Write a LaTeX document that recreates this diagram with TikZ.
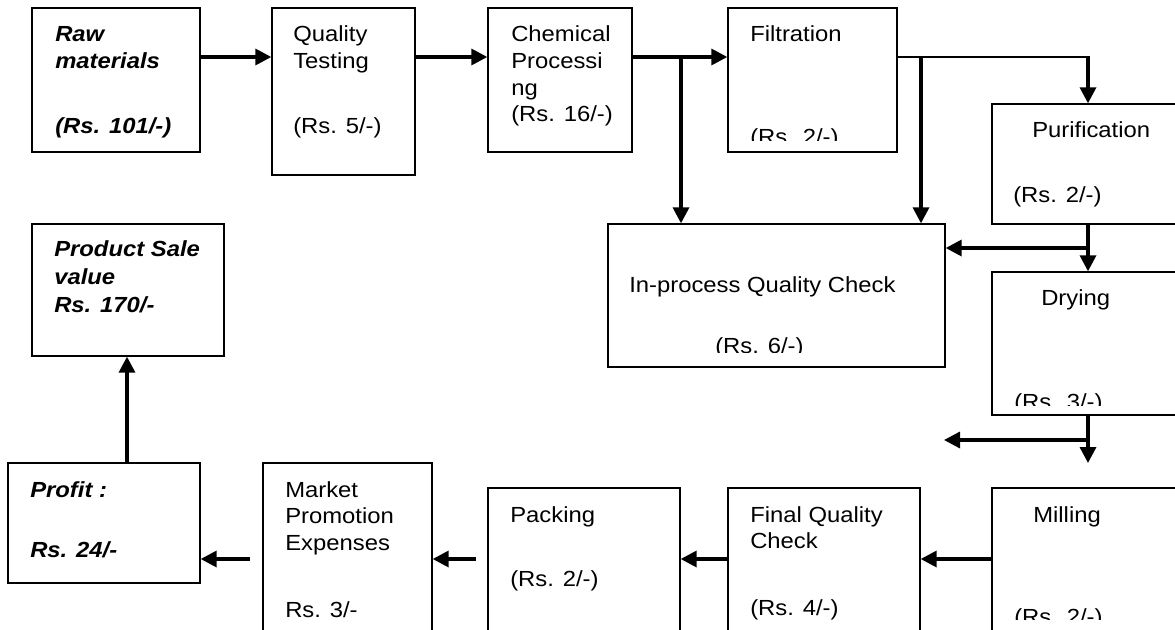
\documentclass[tikz,border=0pt]{standalone}
\usepackage{fontspec}
\setmainfont{Liberation Sans}[FakeStretch=1.09]
\usetikzlibrary{arrows.meta,fit}

\begin{document}
\begin{tikzpicture}[x=0.75pt,y=-0.75pt,
  box/.style={draw,line width=1pt,inner sep=0pt},
  txt/.style={anchor=base west,inner sep=0pt,font=\fontsize{16.4}{20}\selectfont},
  bi/.style={anchor=base west,inner sep=0pt,font=\fontsize{16.4}{20}\selectfont\bfseries\itshape},
  flow/.style={line width=2.5pt,-{Triangle[length=12pt,width=12pt]}},
  thinline/.style={line width=1pt}]

\useasboundingbox (0,0) rectangle (1175,629);
\fill[white] (0,0) rectangle (1175,629);
\clip (0,0) rectangle (1175,629);

% process boxes
\node[box,fit={(32,8)(200,152)}]    (raw)    {};
\node[box,fit={(272,8)(415,175)}]   (qt)     {};
\node[box,fit={(488,8)(632,152)}]   (chem)   {};
\node[box,fit={(728,8)(897,152)}]   (filt)   {};
\node[box,fit={(992,104)(1182,224)}](puri)   {};
\node[box,fit={(608,224)(945,367)}] (ipqc)   {};
\node[box,fit={(992,272)(1182,415)}](dry)    {};
\node[box,fit={(32,224)(224,356)}]  (sale)   {};
\node[box,fit={(8,463)(200,583)}]   (profit) {};
\node[box,fit={(263,463)(432,636)}] (mkt)    {};
\node[box,fit={(488,488)(680,636)}] (pack)   {};
\node[box,fit={(728,488)(920,636)}] (fqc)    {};
\node[box,fit={(992,488)(1182,636)}](mill)   {};

% box texts
\node[bi] (rawA) at (55,41)  {Raw};
\node[bi] (rawB) at (55,68)  {materials};
\node[bi] (rawC) at (55,133) {(Rs. 101/-)};

\node[txt] (qtA) at (293,41)  {Quality};
\node[txt] (qtB) at (293,68)  {Testing};
\node[txt] (qtC) at (293,133) {(Rs. 5/-)};

\node[txt] (chemA) at (511,41)  {Chemical};
\node[txt] (chemB) at (511,68)  {Processi};
\node[txt] (chemC) at (511,95)  {ng};
\node[txt] (chemD) at (511,121) {(Rs. 16/-)};

\node[txt] (filtA) at (750,41) {Filtration};
\begin{scope}
  \clip (728,8) rectangle (897,140);
  \node[txt] (filtB) at (750,144) {(Rs. 2/-)};
\end{scope}

\node[txt] (puriA) at (1032,137) {Purification};
\node[txt] (puriB) at (1013,202) {(Rs. 2/-)};

\node[txt] (ipqcA) at (629,292) {In-process Quality Check};
\begin{scope}
  \clip (608,224) rectangle (945,352);
  \node[txt] (ipqcB) at (715,353) {(Rs. 6/-)};
\end{scope}

\node[txt] (dryA) at (1041,305) {Drying};
\begin{scope}
  \clip (992,272) rectangle (1175,405);
  \node[txt] (dryB) at (1014,409) {(Rs. 3/-)};
\end{scope}

\node[bi] (saleA) at (54,256) {Product Sale};
\node[bi] (saleB) at (54,284) {value};
\node[bi] (saleC) at (54,312) {Rs. 170/-};

\node[bi] (profitA) at (30,497) {Profit :};
\node[bi] (profitB) at (30,557) {Rs. 24/-};

\node[txt] (mktA) at (285,497) {Market};
\node[txt] (mktB) at (285,523) {Promotion};
\node[txt] (mktC) at (285,550) {Expenses};
\node[txt] (mktD) at (285,617) {Rs. 3/-};

\node[txt] (packA) at (510,522) {Packing};
\node[txt] (packB) at (510,586) {(Rs. 2/-)};

\node[txt] (fqcA) at (750,522) {Final Quality};
\node[txt] (fqcB) at (750,548) {Check};
\node[txt] (fqcC) at (750,615) {(Rs. 4/-)};

\node[txt] (millA) at (1033,522) {Milling};
\begin{scope}
  \clip (992,488) rectangle (1175,619);
  \node[txt] (millB) at (1014,624) {(Rs. 2/-)};
\end{scope}

% flow lines and junctions
\coordinate (yTop) at (0,57);
\coordinate (yBot) at (0,559);
\coordinate (j1) at (681,57);
\coordinate (j2) at (921,57);
\coordinate (j3) at (1088,57);
\coordinate (j4) at (1088,248);
\coordinate (j5) at (1088,440);
\coordinate (e5) at (944,440);
\coordinate (m0) at (1088,463);
\coordinate (s1) at (476,559);
\coordinate (s2) at (250,559);
\coordinate (xP) at (127,0);

\draw[flow] (raw.east |- yTop) -- (qt.west |- yTop);
\draw[flow] (qt.east |- yTop) -- (chem.west |- yTop);
\draw[flow] (chem.east |- yTop) -- (filt.west |- yTop);
\draw[flow] (j1) -- (j1 |- ipqc.north);

\draw[thinline] (filt.east |- yTop) -- (j3);
\draw[flow] ([yshift=0.5pt]j3) -- (j3 |- puri.north);
\draw[flow] (j2) -- (j2 |- ipqc.north);

\draw[flow] (j3 |- puri.south) -- (j3 |- dry.north);
\draw[flow] (j4) -- (ipqc.east |- j4);

\draw[flow] (j3 |- dry.south) -- (m0);
\draw[flow] (j5) -- (e5);

\draw[flow] (mill.west |- yBot) -- (fqc.east |- yBot);
\draw[flow] (fqc.west |- yBot) -- (pack.east |- yBot);
\draw[flow] (s1) -- (mkt.east |- yBot);
\draw[flow] (s2) -- (profit.east |- yBot);
\draw[flow] (xP |- profit.north) -- (xP |- sale.south);
\end{tikzpicture}
\end{document}
